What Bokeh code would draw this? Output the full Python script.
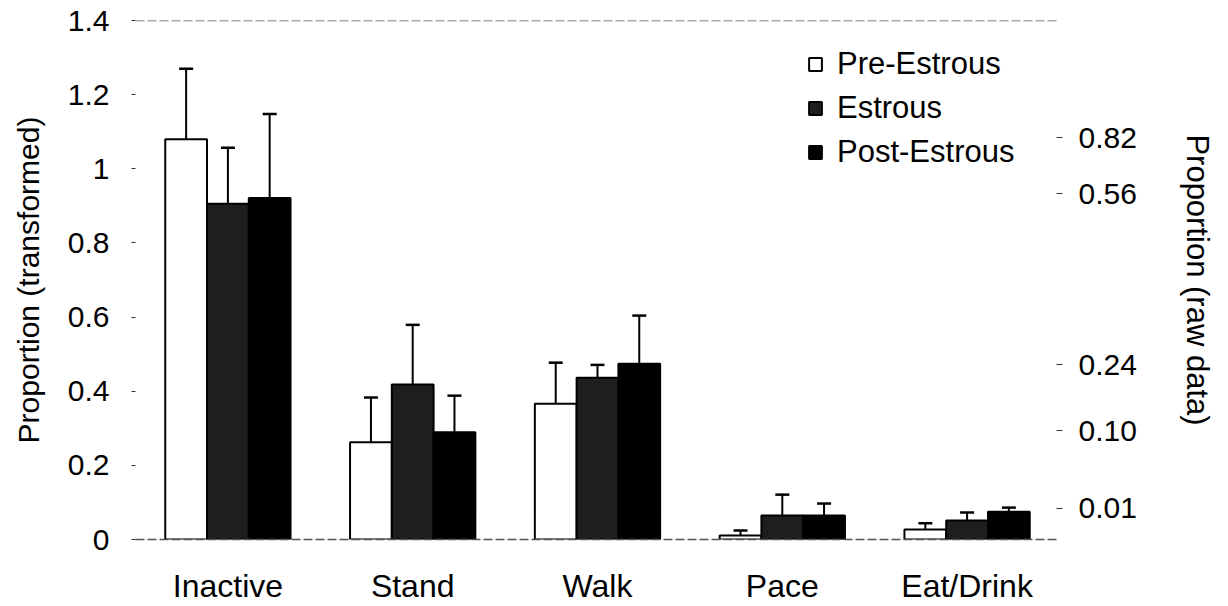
from bokeh.plotting import figure
from bokeh.models import (ColumnDataSource, FactorRange, Range1d, LinearAxis, FixedTicker,
                          Span, Whisker, TeeHead, Legend, LegendItem, NumeralTickFormatter,
                          CustomJSTickFormatter)
from bokeh.transform import dodge
from bokeh.embed import file_html
from bokeh.resources import INLINE

# ---- data ----
categories = ["Inactive", "Stand", "Walk", "Pace", "Eat/Drink"]
series = ["Pre-Estrous", "Estrous", "Post-Estrous"]

pre_means = [1.080, 0.262, 0.366, 0.011, 0.027]
est_means = [0.906, 0.418, 0.436, 0.065, 0.051]
post_means = [0.921, 0.289, 0.474, 0.065, 0.075]

pre_sem = [0.190, 0.121, 0.111, 0.013, 0.017]
est_sem = [0.151, 0.161, 0.035, 0.056, 0.022]
post_sem = [0.227, 0.099, 0.130, 0.032, 0.011]

left_ticks = [0, 0.2, 0.4, 0.6, 0.8, 1.0, 1.2, 1.4]
right_ticks = [1.084, 0.933, 0.472, 0.294, 0.084]
right_labels = ["0.82", "0.56", "0.24", "0.10", "0.01"]

FONT = "Liberation Sans"

p = figure(x_range=FactorRange(*categories, range_padding=0),
           y_range=Range1d(0, 1.4),
           frame_width=924, frame_height=519,
           min_border_left=135, min_border_right=158,
           min_border_top=20, min_border_bottom=60,
           output_backend="svg", toolbar_location=None)

p.outline_line_color = None
p.grid.grid_line_color = None
p.background_fill_color = "white"
p.border_fill_color = "white"

offsets = [-0.226, 0.0, 0.226]
fills = ["white", "#1e1e1e", "black"]
means_all = [pre_means, est_means, post_means]
sems_all = [pre_sem, est_sem, post_sem]

items = []
for name, off, fc, m, s in zip(series, offsets, fills, means_all, sems_all):
    src = ColumnDataSource(dict(cat=categories, mean=m,
                                upper=[a + b for a, b in zip(m, s)]))
    w = Whisker(base=dodge("cat", off, range=p.x_range), upper="upper", lower="mean",
                source=src, line_color="black", line_width=2,
                upper_head=TeeHead(size=14, line_width=2.5, line_color="black"),
                lower_head=None)
    p.add_layout(w)
    r = p.vbar(x=dodge("cat", off, range=p.x_range), top="mean", bottom=0, width=0.226,
               source=src, fill_color=fc, line_color="black", line_width=2)
    items.append(LegendItem(label=name, renderers=[r]))

# top border line
p.add_layout(Span(location=1.4, dimension="width", line_color="#555555",
                  line_dash="9 3", line_width=1.5))

# left axis
ya = p.yaxis[0]
ya.ticker = FixedTicker(ticks=left_ticks)
ya.formatter = NumeralTickFormatter(format="0.[0]")
ya.axis_line_color = None
ya.major_tick_line_color = "#333333"
ya.major_tick_out = 4
ya.major_tick_in = 0
ya.minor_tick_line_color = None
ya.major_label_standoff = 22
ya.major_label_text_font = FONT
ya.major_label_text_font_size = "30px"
ya.major_label_text_color = "black"
ya.axis_label = "Proportion (transformed)"
ya.axis_label_text_font = FONT
ya.axis_label_text_font_size = "30px"
ya.axis_label_text_font_style = "normal"
ya.axis_label_text_color = "black"
ya.axis_label_standoff = 20

# x axis
xa = p.xaxis[0]
xa.axis_line_color = "#555555"
xa.axis_line_dash = "9 3"
xa.axis_line_width = 1.5
xa.major_tick_line_color = None
xa.major_tick_out = 0
xa.major_tick_in = 0
xa.major_label_standoff = 28
xa.major_label_text_font = FONT
xa.major_label_text_font_size = "32px"
xa.major_label_text_color = "black"

# right axis (raw proportions)
fmt = CustomJSTickFormatter(args=dict(pos=right_ticks, labs=right_labels), code="""
let best = 0, d = 1e9;
for (let i = 0; i < pos.length; i++) {
  const dd = Math.abs(pos[i] - tick);
  if (dd < d) { d = dd; best = i; }
}
return labs[best];
""")
ra = LinearAxis(ticker=FixedTicker(ticks=right_ticks), formatter=fmt)
ra.axis_line_color = None
ra.major_tick_line_color = "#333333"
ra.major_tick_out = 3
ra.major_tick_in = 3
ra.minor_tick_line_color = None
ra.major_label_standoff = 16
ra.major_label_text_font = FONT
ra.major_label_text_font_size = "30px"
ra.major_label_text_color = "black"
ra.axis_label = "Proportion (raw data)"
ra.axis_label_text_font = FONT
ra.axis_label_text_font_size = "31px"
ra.axis_label_text_font_style = "normal"
ra.axis_label_text_color = "black"
ra.axis_label_standoff = 40
p.add_layout(ra, "right")

legend = Legend(items=items, location=(672, 368), orientation="vertical",
                glyph_width=16, glyph_height=16, label_height=38, spacing=6,
                label_standoff=14, padding=0, margin=0,
                label_text_font=FONT, label_text_font_size="31px",
                label_text_color="black",
                border_line_color=None, background_fill_alpha=0)
p.add_layout(legend)

open("out.html", "w").write(file_html(p, INLINE))
